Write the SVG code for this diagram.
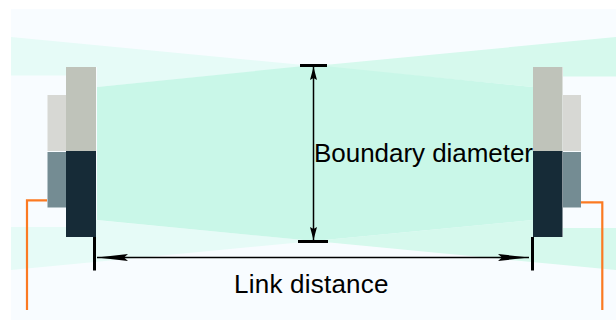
<svg xmlns="http://www.w3.org/2000/svg" width="616" height="320" viewBox="0 0 616 320">
<defs>
<marker id="arrowH" viewBox="0 0 32 7" refX="31" refY="3.500" markerWidth="32" markerHeight="7" markerUnits="userSpaceOnUse" orient="auto-start-reverse"><path d="M0,0 L31,3.500 L0,7 L4,3.500 Z" fill="#000"/></marker>
<marker id="arrowV" viewBox="0 0 13 7" refX="13" refY="3.500" markerWidth="13" markerHeight="7" markerUnits="userSpaceOnUse" orient="auto-start-reverse"><path d="M0,0 L13,3.500 L0,7 L2,3.500 Z" fill="#000"/></marker>
</defs>
<style>
.t{font-family:"Liberation Sans",Arial,sans-serif;font-size:26px;fill:#000}
.o{fill:none;stroke:#fb7a22;stroke-width:2.200}
.b{fill:none;stroke:#000;stroke-width:3}
.l{stroke:#000;stroke-width:1.500;fill:none}
</style>
<rect width="616" height="320" fill="#fff"/>
<g id="beam">
<rect x="11" y="9" width="605" height="311" fill="#f8fcff"/>
<path d="M11,37 L314,66 L97,87 V67 H66 V75.500 H11 Z" fill="#e6fbf7"/>
<path d="M616,37 L314,66 L533,87 V67 H563 V76.500 H616 Z" fill="#d6f9ed"/>
<path d="M11,227 H66 V237 H95 V220 L314,241 L11,270 Z" fill="#e6fbf7"/>
<path d="M616,228 H563 V237 H533 V220 L314,241 L616,270 Z" fill="#d6f9ed"/>
<path d="M97,87 L314,65 L533,87 V220 L314,241 L97,220 Z" fill="#c9f7e8"/>
</g>
<g id="left-unit">
<rect x="47.500" y="95" width="18.500" height="56" fill="#d7d8d4"/>
<rect x="47.500" y="152" width="18.500" height="55.500" fill="#748c93"/>
<rect x="66" y="67" width="30" height="84" fill="#bfc3ba"/>
<rect x="66" y="151" width="30" height="86" fill="#162b37"/>
<path class="o" d="M47,200.400 H27 V310"/>
</g>
<g id="right-unit">
<rect x="563" y="95" width="18" height="56" fill="#d7d8d4"/>
<rect x="563" y="152" width="18" height="55.500" fill="#748c93"/>
<rect x="533" y="67" width="29.500" height="84" fill="#bfc3ba"/>
<rect x="533" y="151" width="29.500" height="86" fill="#162b37"/>
<path class="o" d="M581,202.300 H602.300 V310"/>
</g>
<g id="connectors">
<path class="b" d="M300,65.500 H327"/>
<path class="b" d="M298,241.500 H328"/>
<path class="l" d="M313.500,67 V240" marker-start="url(#arrowV)" marker-end="url(#arrowV)"/>
<path class="b" d="M94.500,237 V270.500"/>
<path class="b" d="M532.500,237 V270.500"/>
<path class="l" d="M97,257.500 H529" marker-start="url(#arrowH)" marker-end="url(#arrowH)"/>
</g>
<g id="labels">
<text class="t" x="314" y="162" textLength="219" lengthAdjust="spacing">Boundary diameter</text>
<text class="t" x="234" y="293" textLength="154.500" lengthAdjust="spacing">Link distance</text>
</g>
</svg>
